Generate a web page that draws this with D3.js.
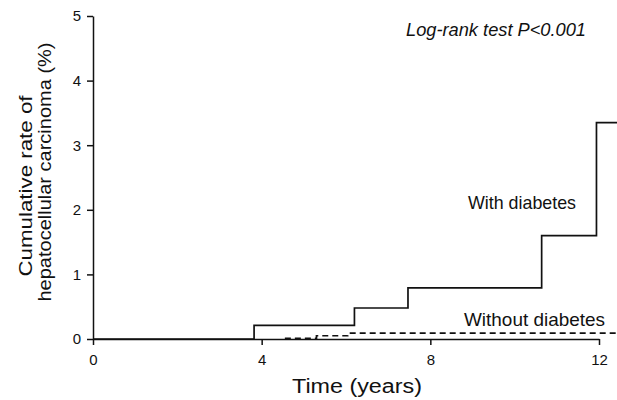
<!DOCTYPE html>
<html>
<head>
<meta charset="utf-8">
<script src="https://cdnjs.cloudflare.com/ajax/libs/d3/7.8.5/d3.min.js"></script>
<style>
  body { margin: 0; background: #fff; }
  text { font-family: 'Liberation Sans', Arial, sans-serif; fill: #111; }
</style>
</head>
<body>
<svg id="chart" width="617" height="400"></svg>
<script>
// step curves: [time in years, cumulative rate %]
const withDiabetes = [[0, 0], [3.82, 0.21], [6.2, 0.48], [7.47, 0.79], [10.64, 1.6], [11.94, 3.35], [12.45, 3.35]]
const withoutDiabetes = [[4.55, 0.01], [5.3, 0.05], [6.04, 0.09], [12.45, 0.07]]
const xTicks = [0, 4, 8, 12]
const yTicks = [0, 1, 2, 3, 4, 5]

const svg = d3.select('#chart')

const x = d3.scaleLinear().domain([0, 12]).range([93, 599])
const y = d3.scaleLinear().domain([0, 5]).range([339, 16])

// axes
const xAxis = d3.axisBottom(x).tickValues(xTicks).tickFormat(d3.format('d'))
    .tickSize(6).tickPadding(9).tickSizeOuter(0)
svg.append('g')
    .attr('transform', `translate(0, ${y(0)})`)
    .call(xAxis)

const yAxis = d3.axisLeft(y).tickValues(yTicks).tickFormat(d3.format('d'))
    .tickSize(6).tickPadding(6).tickSizeOuter(0)
svg.append('g')
    .attr('transform', `translate(${x(0)}, 0)`)
    .call(yAxis)

svg.selectAll('.domain, .tick line')
    .attr('stroke', '#111')
    .attr('stroke-width', 1.5)
svg.selectAll('.tick text')
    .style('font-size', '15px')
    .style('font-family', "'Liberation Sans', Arial, sans-serif")
    .attr('fill', '#111')

// curves
const line = d3.line()
    .x(d => x(d[0]))
    .y(d => y(d[1]))
    .curve(d3.curveStepAfter)

svg.append('path')
    .datum(withDiabetes)
    .attr('d', line)
    .attr('fill', 'none')
    .attr('stroke', '#111')
    .attr('stroke-width', 1.7)

svg.append('path')
    .datum(withoutDiabetes)
    .attr('d', line)
    .attr('fill', 'none')
    .attr('stroke', '#111')
    .attr('stroke-width', 1.7)
    .attr('stroke-dasharray', '6,4')

// labels (scanned figure is a bit wider than the font, so stretch with textLength)
svg.append('text')
    .attr('x', 292).attr('y', 393)
    .attr('textLength', 130).attr('lengthAdjust', 'spacingAndGlyphs')
    .style('font-size', '20px')
    .text('Time (years)')

svg.append('text')
    .attr('transform', 'translate(32, 186) rotate(-90)')
    .attr('x', -90.5)
    .attr('textLength', 181).attr('lengthAdjust', 'spacingAndGlyphs')
    .style('font-size', '19px')
    .text('Cumulative rate of')
svg.append('text')
    .attr('transform', 'translate(51, 172) rotate(-90)')
    .attr('x', -129.5)
    .attr('textLength', 259).attr('lengthAdjust', 'spacingAndGlyphs')
    .style('font-size', '19px')
    .text('hepatocellular carcinoma (%)')

svg.append('text')
    .attr('x', 406).attr('y', 36)
    .attr('textLength', 180).attr('lengthAdjust', 'spacingAndGlyphs')
    .style('font-size', '18px')
    .style('font-style', 'italic')
    .text('Log-rank test P<0.001')

svg.append('text')
    .attr('x', 468).attr('y', 209)
    .attr('textLength', 108).attr('lengthAdjust', 'spacingAndGlyphs')
    .style('font-size', '19px')
    .text('With diabetes')

svg.append('text')
    .attr('x', 464).attr('y', 326)
    .attr('textLength', 141).attr('lengthAdjust', 'spacingAndGlyphs')
    .style('font-size', '19px')
    .text('Without diabetes')
</script>
</body>
</html>
